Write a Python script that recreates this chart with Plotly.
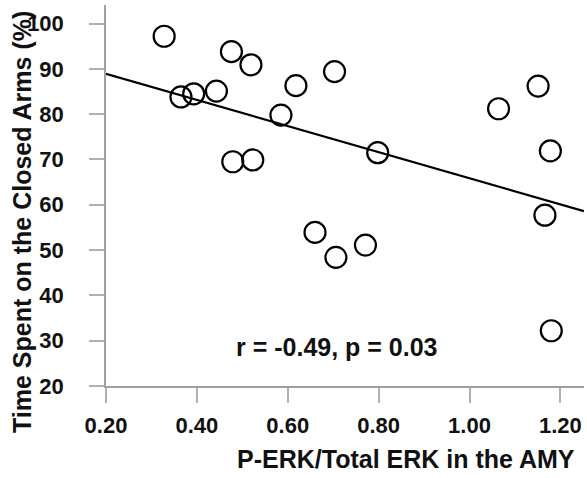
import plotly.graph_objects as go

erk_ratio = [0.328, 0.365, 0.393, 0.443, 0.476, 0.519, 0.479, 0.523, 0.585, 0.618,
             0.703, 0.798, 1.064, 1.151, 1.178, 1.166, 0.660, 0.706, 0.771, 1.180]
closed_arms_time = [97.2, 83.8, 84.5, 85.1, 93.8, 90.9, 69.5, 69.9, 79.8, 86.3,
                    89.4, 71.5, 81.2, 86.2, 71.9, 57.7, 53.9, 48.4, 51.1, 32.2]
fit_x = [0.20, 1.252]
fit_y = [88.9, 58.6]
x_ticks = [0.2, 0.4, 0.6, 0.8, 1.0, 1.2]
x_tick_labels = ["0.20", "0.40", "0.60", "0.80", "1.00", "1.20"]
y_ticks = [20, 30, 40, 50, 60, 70, 80, 90, 100]
stat_text = "r = -0.49, p = 0.03"

FONT = "Liberation Sans, Arial, sans-serif"
L, R, T, B = 106, 3, 5, 92
W, H = 587, 478
PW, PH = W - L - R, H - T - B

fig = go.Figure()
fig.add_trace(go.Scatter(x=fit_x, y=fit_y, mode="lines",
                         line=dict(color="black", width=2.2), hoverinfo="skip"))
fig.add_trace(go.Scatter(x=erk_ratio, y=closed_arms_time, mode="markers",
                         marker=dict(symbol="circle-open", size=21, color="black",
                                     line=dict(width=2.2, color="black"))))

tick_font = dict(family=FONT, size=22, color="#111", weight="bold")
fig.update_layout(
    width=W, height=H,
    margin=dict(l=L, r=R, t=T, b=B),
    paper_bgcolor="white", plot_bgcolor="white",
    showlegend=False,
    font=dict(family=FONT, size=17, color="black"),
    xaxis=dict(range=[0.2, 1.252], tickvals=x_ticks, ticktext=x_tick_labels,
               showgrid=False, zeroline=False, showline=True, linecolor="#a0a0a0",
               linewidth=1.5, ticks="outside", ticklen=15, tickcolor="#b0b0b0",
               tickwidth=1.5, tickfont=tick_font, ticklabelstandoff=4, automargin=False),
    yaxis=dict(range=[20, 104.1], tickvals=y_ticks,
               showgrid=False, zeroline=False, showline=True, linecolor="#a0a0a0",
               linewidth=1.5, ticks="outside", ticklen=15, tickcolor="#b0b0b0",
               tickwidth=1.5, tickfont=tick_font, ticklabelstandoff=21, automargin=False),
)

title_font = dict(family=FONT, size=25, color="#111", weight="bold")
fig.add_annotation(x=0.709, y=28.6, xref="x", yref="y", text=stat_text,
                   showarrow=False, font=title_font)
fig.add_annotation(x=(577 - L) / PW, y=(H - B - 459) / PH, xref="paper", yref="paper",
                   xanchor="right", yanchor="middle",
                   text="P-ERK/Total ERK in the AMY", showarrow=False, font=title_font)
fig.add_annotation(x=(22 - L) / PW, y=(H - B - 222) / PH, xref="paper", yref="paper",
                   text="Time Spent on the Closed Arms (%)", textangle=-90,
                   showarrow=False, xanchor="center", yanchor="middle", font=title_font)

fig.write_html("out.html", config={"displayModeBar": False},
               post_script="document.body.style.margin='0';")
